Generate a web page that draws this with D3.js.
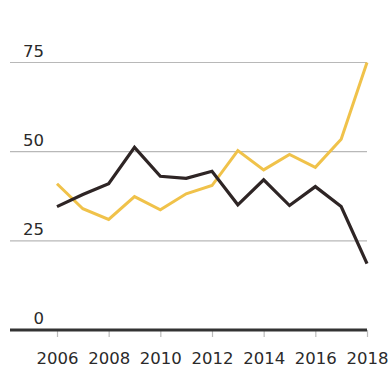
<!DOCTYPE html>
<html>
<head>
<meta charset="utf-8">
<script src="https://cdn.jsdelivr.net/npm/d3@7"></script>
<style>
  body { margin: 0; background: #fff; }
  text { font-family: "DejaVu Sans", sans-serif; }
</style>
</head>
<body>
<svg width="390" height="370"></svg>
<script>
// data
var years = [2006, 2007, 2008, 2009, 2010, 2011, 2012, 2013, 2014, 2015, 2016, 2017, 2018];
var yellowVals = [41, 34, 31, 37.4, 33.7, 38.2, 40.5, 50.3, 44.9, 49.2, 45.6, 53.5, 75];
var darkVals = [34.6, 38, 41, 51.2, 43.1, 42.5, 44.5, 35.1, 42.1, 34.9, 40.2, 34.6, 18.6];
var yTicks = [0, 25, 50, 75];
var xTicks = [2006, 2008, 2010, 2012, 2014, 2016, 2018];

var svg = d3.select("svg");

var x = d3.scaleLinear().domain([2006, 2018]).range([57, 367]);
var y = d3.scaleLinear().domain([0, 75]).range([330, 62.5]);

//网格线
svg.selectAll(".grid")
  .data(yTicks.filter(d => d > 0))
  .enter()
  .append("line")
  .attr("x1", 10)
  .attr("x2", 367)
  .attr("y1", d => y(d))
  .attr("y2", d => y(d))
  .attr("stroke", "#b8b8b8")
  .attr("stroke-width", 1.2);

//y轴标签
svg.selectAll(".ylab")
  .data(yTicks)
  .enter()
  .append("text")
  .attr("x", 44)
  .attr("y", d => y(d) - 6)
  .attr("text-anchor", "end")
  .attr("font-size", 16.5)
  .attr("fill", "#2a2a2a")
  .text(d => d);

//x轴
var xAxis = d3.axisBottom(x)
  .tickValues(xTicks)
  .tickFormat(d3.format("d"))
  .tickSize(7)
  .tickPadding(15);

var gx = svg.append("g")
  .attr("transform", `translate(0,${y(0)})`)
  .call(xAxis);
gx.select(".domain").remove();
gx.selectAll(".tick line").attr("stroke", "#bbb").attr("stroke-width", 1.2);
gx.selectAll(".tick text")
  .attr("font-size", 16.5)
  .attr("font-family", "DejaVu Sans")
  .attr("fill", "#2a2a2a");

svg.append("line")
  .attr("x1", 10)
  .attr("x2", 367)
  .attr("y1", y(0))
  .attr("y2", y(0))
  .attr("stroke", "#333")
  .attr("stroke-width", 3);

var line = d3.line()
  .x((d, i) => x(years[i]))
  .y(d => y(d));

//黄线
svg.append("path")
  .datum(yellowVals)
  .attr("d", line)
  .attr("fill", "none")
  .attr("stroke", "#f0c24a")
  .attr("stroke-width", 3);

//深色线
svg.append("path")
  .datum(darkVals)
  .attr("d", line)
  .attr("fill", "none")
  .attr("stroke", "#2e2525")
  .attr("stroke-width", 3.2);
</script>
</body>
</html>
